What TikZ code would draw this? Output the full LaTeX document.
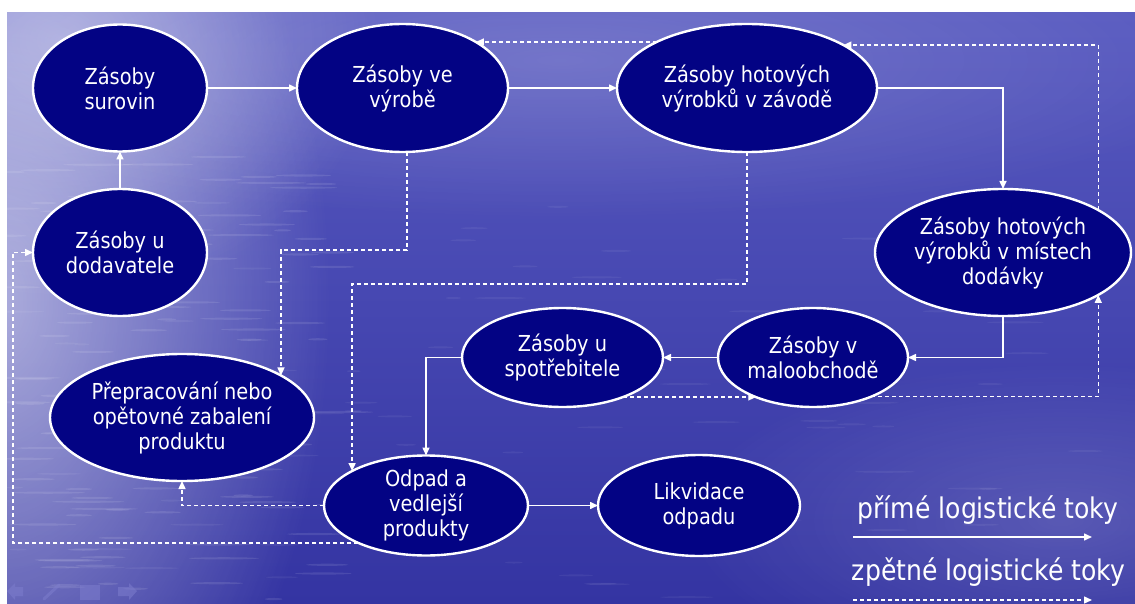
\documentclass[tikz,border=0pt]{standalone}
\usepackage{fontspec}
\setmainfont{DejaVu Sans}[FakeStretch=0.88]
\usetikzlibrary{shapes.geometric,arrows.meta,fadings,calc}
\definecolor{navyfill}{RGB}{3,3,132}
\definecolor{bgtop}{RGB}{88,90,192}
\definecolor{bgbot}{RGB}{52,52,162}
\definecolor{iconc}{RGB}{125,125,205}
\tikzfading[name=softglow, inner color=transparent!0, outer color=transparent!100]
\pgfdeclarelayer{bgl}
\pgfdeclarelayer{edges}
\pgfsetlayers{bgl,edges,main}
\tikzset{
  ell/.style={ellipse, draw=white, line width=2.4pt, fill=navyfill, text=white,
    inner sep=0pt, outer sep=0pt, align=center, font=\fontsize{22}{25}\selectfont},
  sol/.style={draw=white, line width=1.5pt, -{Triangle[length=8pt,width=7pt]}},
  das/.style={draw=white, line width=1.4pt, dash pattern=on 4pt off 3pt,
    -{Triangle[length=8pt,width=7pt]}},
  legtext/.style={text=white, inner sep=0pt, anchor=base, font=\fontsize{28.5}{32}\selectfont}
}
\begin{document}
\begin{tikzpicture}[x=1pt,y=-1pt]
\useasboundingbox (0,0) rectangle (1135,604);
% ---------- background ----------
\begin{pgfonlayer}{bgl}
\fill[white] (0,0) rectangle (1135,604);
\begin{scope}
\clip (7,13) rectangle (1135,604);
\shade[top color=bgtop, bottom color=bgbot] (7,13) rectangle (1135,604);
\fill[white, opacity=0.55, path fading=softglow] (0,300) ellipse (330pt and 560pt);
\fill[white, opacity=0.35, path fading=softglow] (60,40) ellipse (320pt and 260pt);
\fill[white, opacity=0.18, path fading=softglow] (560,60) ellipse (700pt and 160pt);
\fill[white, opacity=0.16, path fading=softglow] (1060,520) ellipse (380pt and 160pt);
\pgfmathsetseed{7}
\foreach \i in {1,...,110}{
  \pgfmathsetmacro\xx{7+rnd*330}
  \pgfmathsetmacro\yy{150+rnd*450}
  \pgfmathsetmacro\ll{8+rnd*30}
  \fill[white, opacity=0.10] (\xx,\yy) ellipse (\ll pt and 1.1pt);
}
\foreach \i in {1,...,90}{
  \pgfmathsetmacro\xx{7+rnd*1128}
  \pgfmathsetmacro\yy{200+rnd*400}
  \pgfmathsetmacro\ll{6+rnd*25}
  \fill[white, opacity=0.06] (\xx,\yy) ellipse (\ll pt and 1pt);
}
\end{scope}
% slide-show control icons
\fill[iconc, opacity=0.55] (7,591) -- (15,583) -- (15,587) -- (23,587) -- (23,596) -- (15,596) -- (15,600) -- cycle;
\draw[iconc, opacity=0.55, line width=3pt, line cap=round] (44,599) -- (59,585);
\fill[iconc, opacity=0.55] (80,585) rectangle (100,600);
\fill[iconc, opacity=0.55] (137,591) -- (129,583) -- (129,587) -- (118,587) -- (118,596) -- (129,596) -- (129,600) -- cycle;
\end{pgfonlayer}
% ---------- nodes ----------
\node[ell, minimum width=174pt, minimum height=127pt] (sur) at (120,88) {Zásoby\\surovin};
\node[ell, minimum width=211pt, minimum height=128pt] (vyr) at (402.5,88) {Zásoby ve\\výrobě};
\node[ell, minimum width=260pt, minimum height=128pt] (zav) at (747,88) {Zásoby hotových\\výrobků v závodě};
\node[ell, minimum width=174pt, minimum height=127pt] (dodv) at (120,252.5) {Zásoby u\\dodavatele};
\node[ell, minimum width=256pt, minimum height=127pt] (dodk) at (1003,252.5) {Zásoby hotových\\výrobků v místech\\dodávky};
\node[ell, minimum width=190pt, minimum height=99pt] (malo) at (813,357.5) {Zásoby v\\maloobchodě};
\node[ell, minimum width=201pt, minimum height=99pt] (spot) at (562.5,357.5) {Zásoby u\\spotřebitele};
\node[ell, minimum width=264pt, minimum height=127pt] (prep) at (182,417.5) {Přepracování nebo\\opětovné zabalení\\produktu};
\node[ell, minimum width=204pt, minimum height=100pt, inner sep=-6pt] (odpad) at (426,505.5) {Odpad a\\vedlejší\\produkty};
\node[ell, minimum width=202pt, minimum height=101pt] (likv) at (699,505.5) {Likvidace\\odpadu};
% legend
\node[legtext] (leg1) at (988,518) {přímé logistické toky};
\node[legtext] (leg2) at (988.5,580) {zpětné logistické toky};
\coordinate (l1a) at (853,537);
\coordinate (l1b) at (1092,537);
\coordinate (l2a) at (853,600);
\coordinate (l2b) at (1092,600);
\coordinate (lc) at (13,252.5);
% ---------- connectors ----------
\begin{pgfonlayer}{edges}
\draw[sol] (dodv.north) -- (sur.south);
\draw[sol] (sur.east) -- (vyr.west);
\draw[sol] (vyr.east) -- (zav.west);
\draw[sol] (zav.east) -| (dodk.north);
\draw[sol] (dodk.south) |- (malo.east);
\draw[sol] (malo.west) -- (spot.east);
\draw[sol] (spot.west) -| (odpad.north);
\draw[sol] (odpad.east) -- (likv.west);
\draw[das] ([xshift=4.5pt]vyr.south) -- ++(0,98) -| (prep.23);
\draw[das] (zav.south) -- ++(0,132) -| (odpad.155);
\draw[das] (dodk.24) |- (zav.24);
\draw[das] (zav.153) -- (vyr.32 |- zav.153);
\draw[das] (malo.-34.6) -| (dodk.-24);
\draw[das] (spot.-33) -- (malo.-145.4 |- spot.-33);
\draw[das] (odpad.west) -| (prep.south);
\draw[das] (odpad.-151.7) -| (lc) -- (dodv.west);
\draw[sol] (l1a) -- (l1b);
\draw[das] (l2a) -- (l2b);
\end{pgfonlayer}
\end{tikzpicture}
\end{document}
